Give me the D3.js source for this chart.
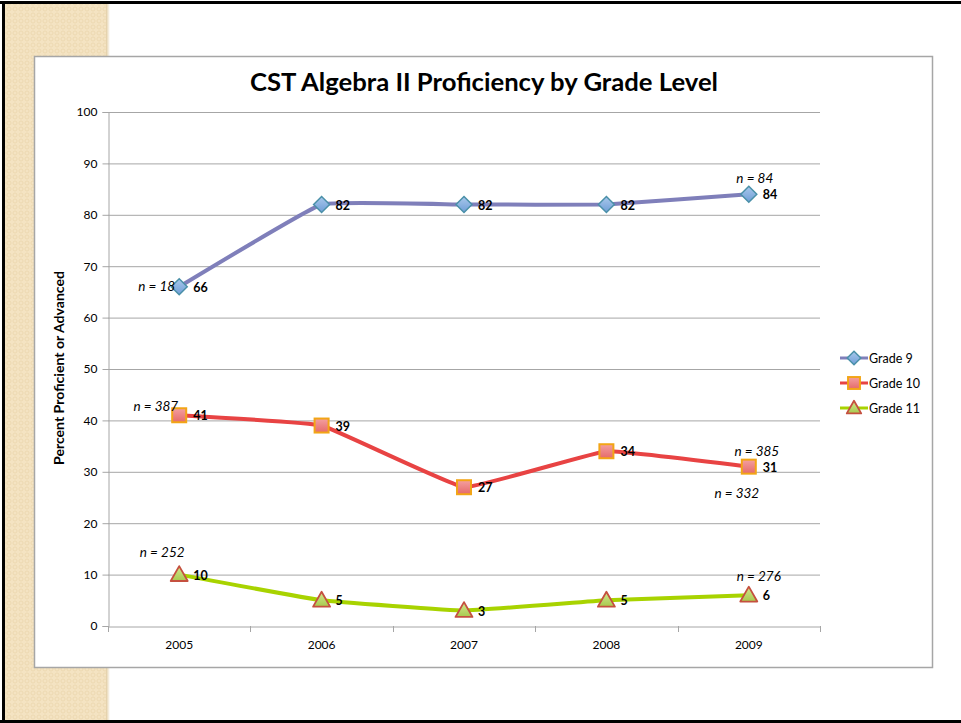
<!DOCTYPE html>
<html><head><meta charset="utf-8">
<script src="https://cdn.jsdelivr.net/npm/d3@7"></script>
<style>html,body{margin:0;padding:0;background:#fff;}svg{display:block;}</style>
</head><body>
<script>
const years = ["2005","2006","2007","2008","2009"];
const grade9 = [66, 82, 82, 82, 84];
const grade10 = [41, 39, 27, 34, 31];
const grade11 = [10, 5, 3, 5, 6];
const seriesNames = ["Grade 9", "Grade 10", "Grade 11"];
const yTicks = [0,10,20,30,40,50,60,70,80,90,100];
const nLabels = [
  {series:0, i:0, text:"n = 18", anchor:"end", dx:-4, dy:4},
  {series:0, i:4, text:"n = 84", anchor:"middle", dx:6, dy:-11},
  {series:1, i:0, text:"n = 387", anchor:"end", dx:-1, dy:-4},
  {series:1, i:4, text:"n = 385", anchor:"middle", dx:8, dy:-11},
  {series:1, i:4, text:"n = 332", anchor:"middle", dx:-12, dy:31},
  {series:2, i:0, text:"n = 252", anchor:"middle", dx:-17, dy:-18},
  {series:2, i:4, text:"n = 276", anchor:"middle", dx:10, dy:-14}
];

(function(){
const W = 961, H = 723;
const svg = d3.select("body").append("svg").attr("width", W).attr("height", H);
const defs = svg.append("defs");

const pat = defs.append("pattern").attr("id","tex").attr("width",6).attr("height",6).attr("patternUnits","userSpaceOnUse");
pat.append("rect").attr("width",6).attr("height",6).attr("fill","#f4e3c2");
pat.append("circle").attr("cx",3).attr("cy",3).attr("r",2).attr("fill","none").attr("stroke","#ead6ad").attr("stroke-width",0.8);

const shadow = defs.append("linearGradient").attr("id","sh").attr("x1","0").attr("x2","1");
shadow.append("stop").attr("offset","0").attr("stop-color","#e2cda2");
shadow.append("stop").attr("offset","1").attr("stop-color","#ffffff");

function vgrad(id, c1, c2){
  const g = defs.append("linearGradient").attr("id",id).attr("x1","0").attr("y1","0").attr("x2","0").attr("y2","1");
  g.append("stop").attr("offset","0").attr("stop-color",c1);
  g.append("stop").attr("offset","1").attr("stop-color",c2);
}
vgrad("gBlue","#a9c8ec","#6f9ed6");
vgrad("gRed","#f4a0a0","#e56a6a");
vgrad("gGreen","#d3e891","#a8c94e");

svg.append("rect").attr("x",0).attr("y",0).attr("width",W).attr("height",H).attr("fill","#fff");
svg.append("rect").attr("x",5).attr("y",4).attr("width",103).attr("height",716).attr("fill","url(#tex)");
svg.append("rect").attr("x",106).attr("y",4).attr("width",4).attr("height",716).attr("fill","url(#sh)");
svg.append("rect").attr("x",0).attr("y",1).attr("width",W).attr("height",3).attr("fill","#000");
svg.append("rect").attr("x",0).attr("y",720).attr("width",W).attr("height",3).attr("fill","#000");
svg.append("rect").attr("x",2).attr("y",1).attr("width",3).attr("height",722).attr("fill","#000");

svg.append("rect").attr("x",34.5).attr("y",56.5).attr("width",898).attr("height",611)
  .attr("fill","#fff").attr("stroke","#a6a6a6").attr("stroke-width",1.5);

const font = "Lato, 'Open Sans', sans-serif";
svg.append("text").attr("x",484).attr("y",91).attr("text-anchor","middle")
  .attr("font-family",font).attr("font-weight","bold").attr("font-size",24).attr("fill","#000")
  .attr("textLength",468).attr("lengthAdjust","spacingAndGlyphs")
  .text("CST Algebra II Proficiency by Grade Level");

const pLeft = 108, pRight = 820, pTop = 112, pBottom = 626;
const x = d3.scaleBand().domain(years).range([pLeft, pRight]);
const y = d3.scaleLinear().domain([0,100]).range([pBottom, pTop]);

svg.append("g").selectAll("line").data(yTicks.filter(d=>d>0)).join("line")
  .attr("x1",pLeft).attr("x2",pRight).attr("y1",d=>y(d)+0.5).attr("y2",d=>y(d)+0.5)
  .attr("stroke","#a6a6a6").attr("stroke-width",1);

const yAxis = svg.append("g").attr("transform",`translate(${pLeft+0.5},0)`)
  .call(d3.axisLeft(y).tickValues(yTicks).tickSize(6).tickPadding(5));
yAxis.select(".domain").attr("stroke","#a6a6a6");
yAxis.selectAll(".tick line").attr("stroke","#a6a6a6");
yAxis.selectAll(".tick text").attr("font-family",font).attr("font-size",12).attr("fill","#000");

const xAxis = svg.append("g").attr("transform",`translate(0,${pBottom+0.5})`)
  .call(d3.axisBottom(x).tickSize(0).tickPadding(14));
xAxis.select(".domain").attr("stroke","#a6a6a6");
xAxis.selectAll(".tick text").attr("font-family",font).attr("font-size",12).attr("fill","#000");
const bounds = years.map(d=>x(d)).concat([pRight]);
svg.append("g").selectAll("line").data(bounds).join("line")
  .attr("x1",d=>Math.round(d)+0.5).attr("x2",d=>Math.round(d)+0.5).attr("y1",pBottom).attr("y2",pBottom+6)
  .attr("stroke","#a6a6a6");

svg.append("text").attr("transform","translate(64,368) rotate(-90)").attr("text-anchor","middle")
  .attr("font-family",font).attr("font-weight","bold").attr("font-size",12.5).attr("fill","#000")
  .attr("textLength",194).attr("lengthAdjust","spacingAndGlyphs")
  .text("Percent Proficient or Advanced");

const series = [
  {name:seriesNames[0], values:grade9, line:"#7f7fba", fill:"url(#gBlue)", stroke:"#4a90a8", shape:"diamond"},
  {name:seriesNames[1], values:grade10, line:"#e84343", fill:"url(#gRed)", stroke:"#f2a516", shape:"square"},
  {name:seriesNames[2], values:grade11, line:"#a8d300", fill:"url(#gGreen)", stroke:"#c5503f", shape:"triangle"}
];
const cx = d => x(d) + x.bandwidth()/2;
const lineGen = d3.line().x((d,i)=>cx(years[i])).y(d=>y(d)).curve(d3.curveCardinal.tension(0.75));

function marker(g, s, px, py, scale){
  scale = scale || 1;
  if (s.shape === "diamond") {
    const r = 8*scale;
    g.append("path").attr("d",`M${px},${py-r}L${px+r},${py}L${px},${py+r}L${px-r},${py}Z`)
      .attr("fill",s.fill).attr("stroke",s.stroke).attr("stroke-width",1.5);
  } else if (s.shape === "square") {
    const r = 7*scale;
    g.append("rect").attr("x",px-r).attr("y",py-r).attr("width",2*r).attr("height",2*r)
      .attr("fill",s.fill).attr("stroke",s.stroke).attr("stroke-width",2);
  } else {
    const r = 8.5*scale;
    g.append("path").attr("d",`M${px},${py-r}L${px+r},${py+r*0.75}L${px-r},${py+r*0.75}Z`)
      .attr("fill",s.fill).attr("stroke",s.stroke).attr("stroke-width",1.8).attr("stroke-linejoin","round");
  }
}

series.forEach(s => {
  const g = svg.append("g");
  g.append("path").datum(s.values).attr("d",lineGen).attr("fill","none")
    .attr("stroke",s.line).attr("stroke-width",4).attr("stroke-linejoin","round");
  s.values.forEach((v,i) => marker(g, s, cx(years[i]), y(v)));
  g.selectAll("text.val").data(s.values).join("text").attr("class","val")
    .attr("x",(d,i)=>cx(years[i])+14).attr("y",d=>y(d)+5)
    .attr("font-family",font).attr("font-weight","bold").attr("font-size",12.5).attr("fill","#000")
    .text(d=>d);
});

const allVals = [grade9, grade10, grade11];
svg.append("g").selectAll("text").data(nLabels).join("text")
  .attr("x",d=>cx(years[d.i])+d.dx).attr("y",d=>y(allVals[d.series][d.i])+d.dy)
  .attr("text-anchor",d=>d.anchor)
  .attr("font-family",font).attr("font-style","italic").attr("font-size",13.5).attr("fill","#000")
  .text(d=>d.text);

const lg = svg.append("g");
series.forEach((s,k) => {
  const ly = 358 + k*25;
  lg.append("line").attr("x1",840).attr("x2",868).attr("y1",ly).attr("y2",ly)
    .attr("stroke",s.line).attr("stroke-width",3);
  marker(lg, s, 854, ly, 0.85);
  lg.append("text").attr("x",869).attr("y",ly+4.5).attr("font-family",font).attr("font-size",12.5).attr("fill","#000").text(s.name);
});
})();
</script>
</body></html>
